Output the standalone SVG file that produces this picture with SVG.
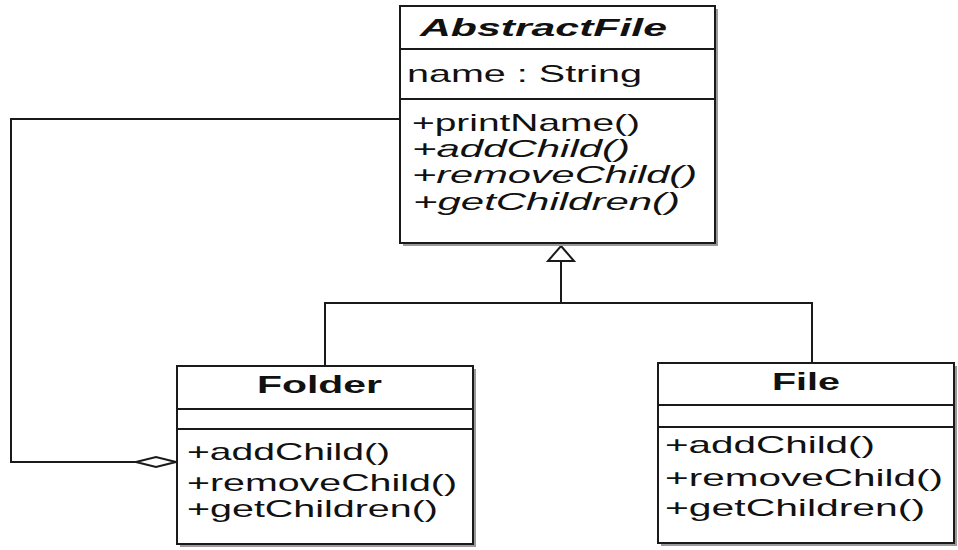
<svg xmlns="http://www.w3.org/2000/svg" width="958" height="550" viewBox="0 0 958 550">
<style>
.shadow{fill:#9a9a9a;}
.box{fill:#fff;stroke:#1a1a1a;stroke-width:2;}
.div{stroke:#1a1a1a;stroke-width:2;}
.t{font-family:"Liberation Sans",Arial,sans-serif;font-size:24px;fill:#111;}
.title{font-family:"Liberation Sans",Arial,sans-serif;font-size:23px;font-weight:bold;fill:#111;}
.it{font-style:italic;}
.conn{fill:none;stroke:#1a1a1a;stroke-width:2;}
.head{fill:#fff;stroke:#1a1a1a;stroke-width:2;}
</style>
<rect width="958" height="550" fill="#fff"/>
<g id="connectors">
<polyline class="conn" points="325,366 325,303 812,303 812,363"/>
<line class="conn" x1="561" y1="303" x2="561" y2="261"/>
<polygon class="head" points="561,246 574,261 548,261"/>
<polyline class="conn" points="400,119 11,119 11,462 136,462"/>
<polygon class="head" points="136,462 156,457 176,462 156,467"/>
</g>
<g id="AbstractFile">
<rect class="shadow" x="403" y="9" width="315" height="237"/>
<rect class="box" x="400" y="6" width="315" height="237"/>
<line class="div" x1="400" y1="49" x2="715" y2="49"/>
<line class="div" x1="400" y1="99" x2="715" y2="99"/>
<text class="title it" x="420" y="36" textLength="247" lengthAdjust="spacingAndGlyphs">AbstractFile</text>
<text class="t" x="407" y="82" textLength="235" lengthAdjust="spacingAndGlyphs">name : String</text>
<text class="t" x="412" y="131" textLength="228" lengthAdjust="spacingAndGlyphs">+printName()</text>
<text class="t it" x="412" y="157" textLength="218" lengthAdjust="spacingAndGlyphs">+addChild()</text>
<text class="t it" x="412" y="183" textLength="285" lengthAdjust="spacingAndGlyphs">+removeChild()</text>
<text class="t it" x="413" y="210" textLength="267" lengthAdjust="spacingAndGlyphs">+getChildren()</text>
</g>
<g id="Folder">
<rect class="shadow" x="180" y="369" width="296" height="178"/>
<rect class="box" x="177" y="366" width="296" height="178"/>
<line class="div" x1="177" y1="409" x2="473" y2="409"/>
<line class="div" x1="177" y1="429" x2="473" y2="429"/>
<text class="title" x="257" y="393" textLength="125" lengthAdjust="spacingAndGlyphs">Folder</text>
<text class="t" x="187" y="460" textLength="203" lengthAdjust="spacingAndGlyphs">+addChild()</text>
<text class="t" x="187" y="491" textLength="270" lengthAdjust="spacingAndGlyphs">+removeChild()</text>
<text class="t" x="187" y="517" textLength="251" lengthAdjust="spacingAndGlyphs">+getChildren()</text>
</g>
<g id="File">
<rect class="shadow" x="661" y="366" width="296" height="180"/>
<rect class="box" x="658" y="363" width="296" height="180"/>
<line class="div" x1="658" y1="405" x2="954" y2="405"/>
<line class="div" x1="658" y1="427" x2="954" y2="427"/>
<text class="title" x="772" y="390" textLength="68" lengthAdjust="spacingAndGlyphs">File</text>
<text class="t" x="665" y="453" textLength="210" lengthAdjust="spacingAndGlyphs">+addChild()</text>
<text class="t" x="665" y="486" textLength="278" lengthAdjust="spacingAndGlyphs">+removeChild()</text>
<text class="t" x="665" y="516" textLength="260" lengthAdjust="spacingAndGlyphs">+getChildren()</text>
</g>
</svg>
